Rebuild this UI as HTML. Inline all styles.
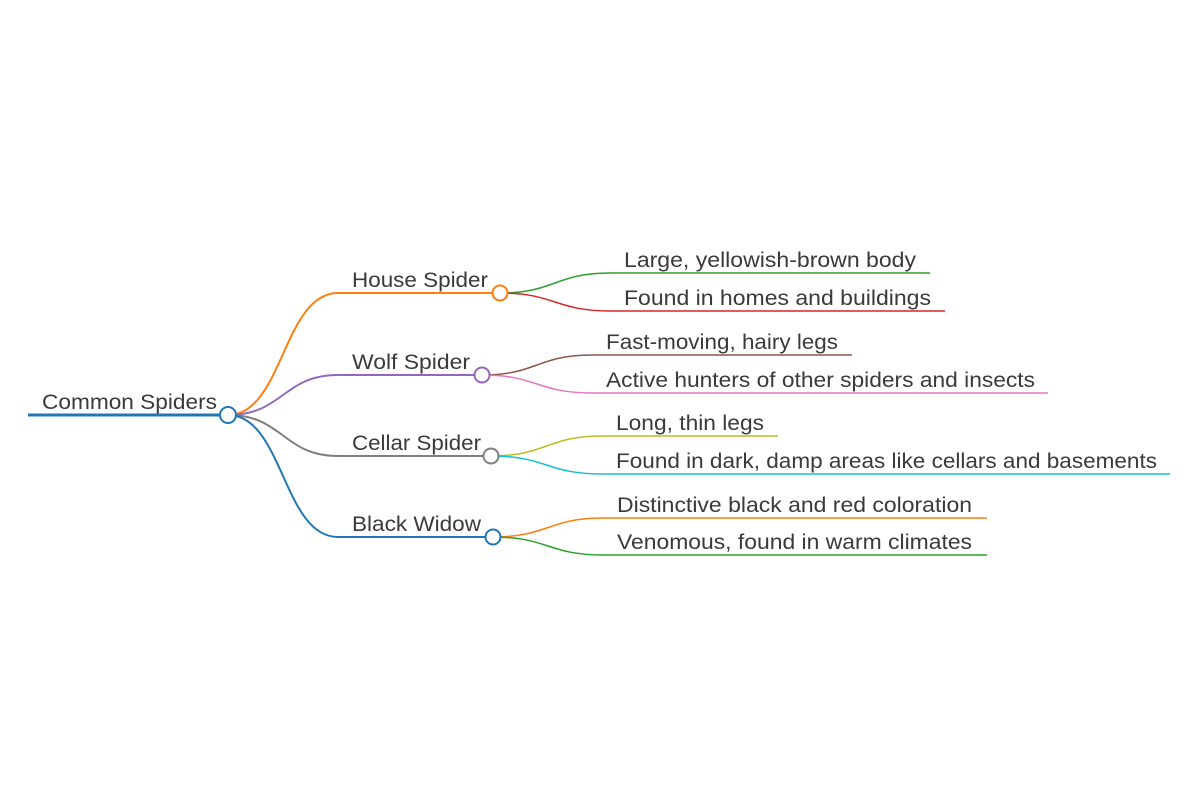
<!DOCTYPE html>
<html><head><meta charset="utf-8"><style>
html,body{margin:0;padding:0;background:#fff;}
svg{display:block;}
text{font-family:"Liberation Sans",sans-serif;font-size:21px;fill:#3a3a3a;}
</style></head><body>
<svg id="chart" width="1200" height="800" viewBox="0 0 1200 800"></svg>
<script>
const rootLabel = "Common Spiders";
const branchLabels = ["House Spider","Wolf Spider","Cellar Spider","Black Widow"];
const branchColors = ["#ff7f0e","#9467bd","#7f7f7f","#1f77b4"];
const leafLabels = [
 ["Large, yellowish-brown body","Found in homes and buildings"],
 ["Fast-moving, hairy legs","Active hunters of other spiders and insects"],
 ["Long, thin legs","Found in dark, damp areas like cellars and basements"],
 ["Distinctive black and red coloration","Venomous, found in warm climates"]
];
const leafColors = [["#2ca02c","#d62728"],["#8c564b","#e377c2"],["#bcbd22","#17becf"],["#ff7f0e","#2ca02c"]];
// layout geometry
const branchY=[293,375,456,537], branchEnd=[500,482,491,493];
const branchTextW=[136,118,129,129];
const leafY=[[273,311],[355,393],[436,474],[518,555]];
const leafStart=[610,592,602,603], leafEnd=[[930,945],[852,1048],[778,1170],[987,987]];
const leafTextX=[624,606,616,617];
const leafTextW=[[292,307],[232,429],[148,541],[355,355]];
const svg=document.getElementById('chart');const NS='http://www.w3.org/2000/svg';
function mk(t,a){const e=document.createElementNS(NS,t);for(const k in a)e.setAttribute(k,a[k]);svg.appendChild(e);return e;}
function curve(x1,y1,x2,y2,c,w){const m=(x1+x2)/2;return mk('path',{d:`M${x1},${y1}C${m},${y1} ${m},${y2} ${x2},${y2}`,fill:'none',stroke:c,'stroke-width':w});}
function label(x,y,s,w){const t=mk('text',{x:x,y:y,textLength:w,lengthAdjust:'spacingAndGlyphs'});t.textContent=s;return t;}
const rx=228, ry=415;
let e;
branchLabels.forEach((b,i)=>{
 leafLabels[i].forEach((l,j)=>{
  e=curve(branchEnd[i],branchY[i],leafStart[i],leafY[i][j],leafColors[i][j],1.5);
  
  
  e=mk('line',{x1:leafStart[i],y1:leafY[i][j],x2:leafEnd[i][j],y2:leafY[i][j],stroke:leafColors[i][j],'stroke-width':1.5});
  
  
  e=label(leafTextX[i],leafY[i][j]-6,l,leafTextW[i][j]);
  
  
 });
 e=curve(rx,ry,338,branchY[i],branchColors[i],2);
 
 
 e=mk('line',{x1:338,y1:branchY[i],x2:branchEnd[i],y2:branchY[i],stroke:branchColors[i],'stroke-width':2});
 
 
 e=label(352,branchY[i]-6,b,branchTextW[i]);
 
 
 e=mk('circle',{cx:branchEnd[i],cy:branchY[i],r:7.5,fill:'#fff',stroke:branchColors[i],'stroke-width':2});
 
 
});
e=mk('line',{x1:28,y1:ry,x2:rx,y2:ry,stroke:'#1f77b4','stroke-width':3});


e=label(42,ry-6,rootLabel,175);


e=mk('circle',{cx:rx,cy:ry,r:8,fill:'#fff',stroke:'#1f77b4','stroke-width':2});


</script>
</body></html>
